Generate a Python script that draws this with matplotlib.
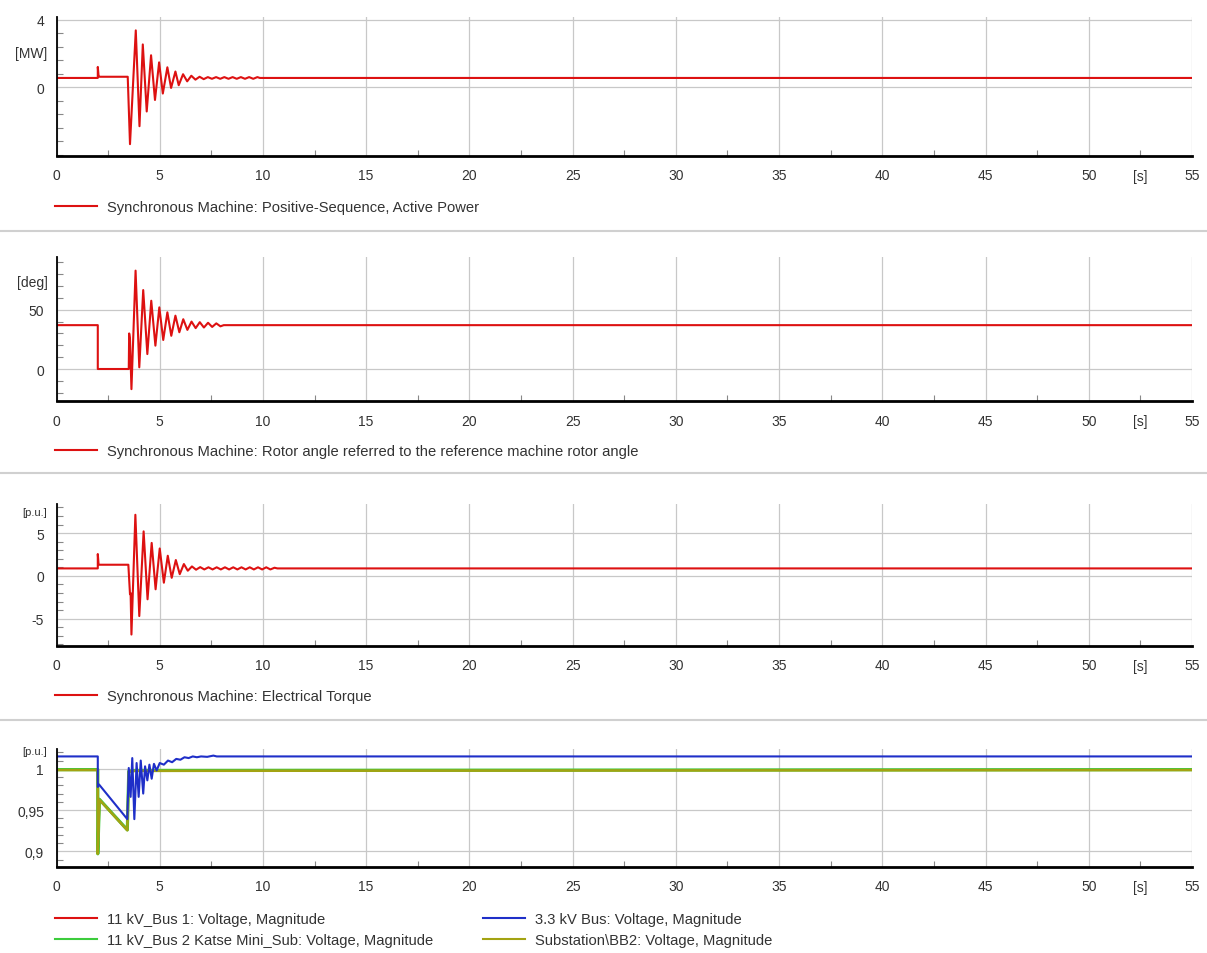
import matplotlib
matplotlib.use("Agg")
import matplotlib.pyplot as plt
from matplotlib.ticker import FixedLocator, MultipleLocator, FuncFormatter
from matplotlib.lines import Line2D

plt.rcParams['font.family'] = ['Liberation Sans', 'DejaVu Sans']

# --- données ---
x_ticks = [0, 5, 10, 15, 20, 25, 30, 35, 40, 45, 50, 55]

# Puissance active [MW]
p_t = [0.0, 2.0, 2.0, 2.04, 2.08, 3.45, 3.56, 3.84, 4.02, 4.18, 4.37, 4.58, 4.77, 4.97,
       5.15, 5.37, 5.55, 5.76, 5.92, 6.13, 6.33, 6.53, 6.73, 6.93, 7.13, 7.33, 7.53,
       7.73, 7.93, 8.13, 8.33, 8.53, 8.73, 8.93, 9.13, 9.33, 9.53, 9.73, 9.85, 55.0]
p_val = [0.55, 0.55, 1.2, 0.65, 0.62, 0.62, -3.36, 3.36, -2.3, 2.53, -1.43, 1.89, -0.75, 1.47,
         -0.37, 1.18, -0.04, 0.93, 0.12, 0.77, 0.35, 0.68, 0.45, 0.62, 0.48, 0.6, 0.5,
         0.6, 0.5, 0.6, 0.5, 0.6, 0.5, 0.6, 0.5, 0.6, 0.5, 0.6, 0.55, 0.55]

# Angle rotor [deg]
ang_t = [0.0, 2.0, 2.0, 3.5, 3.52, 3.56, 3.63, 3.83, 4.01, 4.2, 4.4, 4.59, 4.79, 4.98,
         5.17, 5.37, 5.56, 5.76, 5.95, 6.14, 6.34, 6.54, 6.74, 6.94, 7.14, 7.34, 7.54,
         7.74, 7.94, 8.1, 55.0]
ang_val = [37, 37, 0, 0, 30, 25, -17, 83, 1.4, 66.6, 12.6, 57.6, 19.7, 52,
           24.5, 47.8, 28, 45, 31, 42, 33, 40, 34.5, 39.5, 35, 39, 35.5,
           38.5, 36, 37, 37]

# Couple électrique [p.u.]
te_t = [0.0, 2.0, 2.0, 2.04, 3.48, 3.56, 3.59, 3.63, 3.82, 4.01, 4.22, 4.41, 4.61, 4.8,
        5.0, 5.2, 5.39, 5.58, 5.78, 5.97, 6.17, 6.36, 6.56, 6.76, 6.96, 7.16, 7.36,
        7.56, 7.76, 7.96, 8.16, 8.36, 8.56, 8.76, 8.96, 9.16, 9.36, 9.56, 9.76, 9.96,
        10.16, 10.36, 10.56, 10.7, 55.0]
te_val = [0.87, 0.87, 2.55, 1.3, 1.3, -2.15, -2.0, -6.86, 7.14, -4.7, 5.2, -2.74, 3.85, -1.57,
          3.2, -0.8, 2.35, -0.23, 1.85, 0.2, 1.38, 0.6, 1.1, 0.72, 1.02, 0.75, 1.0,
          0.75, 1.0, 0.75, 1.0, 0.75, 1.0, 0.75, 1.0, 0.75, 1.0, 0.75, 1.0, 0.75,
          1.0, 0.75, 0.95, 0.87, 0.87]

# Tensions [p.u.]
bus33_t = [0.0, 2.0, 2.0, 2.06, 3.43, 3.5, 3.59, 3.67, 3.77, 3.88, 3.98, 4.08, 4.2, 4.29,
           4.4, 4.5, 4.61, 4.72, 4.85, 5.0, 5.2, 5.4, 5.6, 5.8, 6.0, 6.2, 6.4, 6.6,
           6.8, 7.0, 7.3, 7.6, 7.76, 55.0]
bus33_val = [1.015, 1.015, 0.978, 0.981, 0.939, 1.001, 0.966, 1.013, 0.939, 1.007, 0.966, 1.01, 0.97, 1.003,
             0.986, 1.005, 0.988, 1.006, 0.998, 1.007, 1.005, 1.01, 1.008, 1.012, 1.011, 1.014, 1.013, 1.015,
             1.014, 1.015, 1.0145, 1.016, 1.015, 1.015]
bus1_t = [0.0, 2.0, 2.0, 2.08, 3.43, 3.5, 3.8, 55.0]
bus1_val = [0.999, 0.999, 0.897, 0.963, 0.926, 0.997, 0.998, 0.999]
bus2_t = [0.0, 2.0, 2.0, 2.08, 3.43, 3.5, 3.8, 55.0]
bus2_val = [0.999, 0.999, 0.897, 0.963, 0.926, 0.997, 0.998, 0.999]
bb2_t = [0.0, 2.0, 2.0, 2.08, 3.43, 3.5, 3.8, 55.0]
bb2_val = [0.9985, 0.9985, 0.897, 0.9625, 0.9255, 0.9965, 0.9975, 0.9985]

# --- mise en page ---
W, H = 1207, 954
X0, X1 = 56.5, 1192
RED = '#dd1111'
BLUE = '#1f2fc8'
GREEN = '#3ccc3c'
OLIVE = '#a3a312'
GRID = '#c8c8c8'
TXT = '#333333'
FS = 10
FS_LEG = 10.6

fig = plt.figure(figsize=(W / 100, H / 100), dpi=100)


def make_axes(top, bottom):
    return fig.add_axes([X0 / W, 1 - bottom / H, (X1 - X0) / W, (bottom - top) / H])


def style(ax, ylim, majors, minor_step, fmt, unit, unit_y, unit_fs=FS):
    ax.set_xlim(0, 55)
    ax.set_ylim(*ylim)
    ax.xaxis.set_major_locator(FixedLocator(x_ticks))
    ax.xaxis.set_minor_locator(MultipleLocator(2.5))
    ax.yaxis.set_major_locator(FixedLocator(majors))
    ax.yaxis.set_minor_locator(MultipleLocator(minor_step))
    ax.yaxis.set_major_formatter(FuncFormatter(fmt))
    ax.grid(True, which='major', color=GRID, lw=0.9)
    ax.set_axisbelow(True)
    for s in ['top', 'right']:
        ax.spines[s].set_visible(False)
    ax.spines['bottom'].set_linewidth(2.0)
    ax.spines['left'].set_linewidth(1.3)
    ax.tick_params(which='major', length=0, labelsize=FS, labelcolor=TXT)
    ax.tick_params(axis='x', which='major', pad=9)
    ax.tick_params(axis='y', which='major', pad=9)
    ax.tick_params(which='minor', direction='in', length=4, color='#888888', width=0.8)
    ax.set_facecolor('white')
    ax.text(-0.008, unit_y, unit, transform=ax.get_yaxis_transform(), ha='right', va='center',
            fontsize=unit_fs, color=TXT)
    ax.annotate('[s]', xy=(52.5, 0), xycoords=ax.get_xaxis_transform(), xytext=(0, -14.5),
                textcoords='offset points', ha='center', va='center', fontsize=FS, color=TXT)


def num(v, pos):
    return ('%g' % v).replace('.', ',')


def add_legend(handles, labels, x, y):
    fig.legend(handles, labels, loc='center left', bbox_to_anchor=(x / W, 1 - y / H),
               frameon=False, fontsize=FS_LEG, handlelength=2.85, handletextpad=0.7,
               borderpad=0, borderaxespad=0, labelspacing=0.45, labelcolor=TXT)


# panneau 1
ax1 = make_axes(18, 157)
ax1.plot(p_t, p_val, color=RED, lw=1.5)
style(ax1, (-4.06, 4.15), [0, 4], 0.8, num, '[MW]', 2.0)
h = Line2D([], [], color=RED, lw=1.5)
add_legend([h], ['Synchronous Machine: Positive-Sequence, Active Power'], 55, 208)

# panneau 2
ax2 = make_axes(258, 402)
ax2.plot(ang_t, ang_val, color=RED, lw=1.5)
style(ax2, (-27, 94.5), [0, 50], 10, num, '[deg]', 73)
add_legend([h], ['Synchronous Machine: Rotor angle referred to the reference machine rotor angle'], 55, 452)

# panneau 3
ax3 = make_axes(505, 647)
ax3.plot(te_t, te_val, color=RED, lw=1.5)
style(ax3, (-8.2, 8.4), [-5, 0, 5], 1, num, '[p.u.]', 7.5, unit_fs=8)
add_legend([h], ['Synchronous Machine: Electrical Torque'], 55, 697)

# panneau 4
ax4 = make_axes(750, 868)
ax4.plot(bus1_t, bus1_val, color=RED, lw=1.5)
ax4.plot(bus2_t, bus2_val, color=GREEN, lw=2.3)
ax4.plot(bb2_t, bb2_val, color=OLIVE, lw=1.8)
ax4.plot(bus33_t, bus33_val, color=BLUE, lw=1.5)
style(ax4, (0.881, 1.024), [0.9, 0.95, 1.0], 0.01, num, '[p.u.]', 1.022, unit_fs=8)
add_legend([Line2D([], [], color=RED, lw=1.5), Line2D([], [], color=GREEN, lw=1.5)],
           ['11 kV_Bus 1: Voltage, Magnitude', '11 kV_Bus 2 Katse Mini_Sub: Voltage, Magnitude'], 55, 930.5)
add_legend([Line2D([], [], color=BLUE, lw=1.5), Line2D([], [], color=OLIVE, lw=1.5)],
           ['3.3 kV Bus: Voltage, Magnitude', 'Substation\\BB2: Voltage, Magnitude'], 483, 930.5)

# séparateurs
for yy in [232, 474, 721]:
    fig.add_artist(Line2D([0, 1], [1 - yy / H, 1 - yy / H], transform=fig.transFigure,
                          color='#d0d0d0', lw=1.5))

plt.savefig('out.png', dpi=100)
